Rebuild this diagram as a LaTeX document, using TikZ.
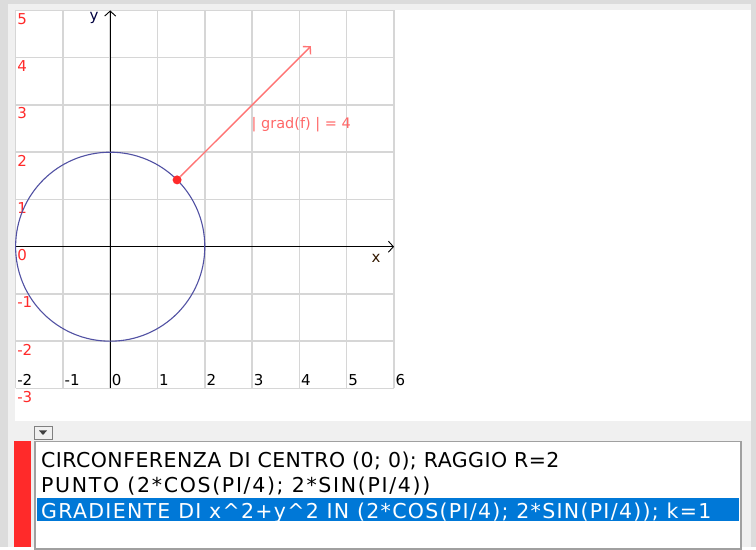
\documentclass[tikz,border=0pt]{standalone}
\usepackage{fontspec}
\setmainfont{DejaVu Sans}
\usetikzlibrary{arrows.meta}

\definecolor{winGray}{HTML}{DCDCDC}
\definecolor{panelGray}{HTML}{F0F0F0}
\definecolor{gridGray}{HTML}{D6D6D6}
\definecolor{labRed}{HTML}{FF2A2A}
\definecolor{circBlue}{HTML}{5151A3}
\definecolor{gradRed}{HTML}{FF7373}
\definecolor{selBlue}{HTML}{0078D7}
\definecolor{boxGray}{HTML}{A0A0A0}

\begin{document}
\begin{tikzpicture}[x=1pt,y=1pt]
    % Styles
    \tikzset{
      grid line/.style={draw=gridGray, line width=1.5pt},
      axis line/.style={draw=black, line width=0.9pt, -{Straight Barb[length=5pt,width=11pt]}},
      ylab/.style={text=labRed, font=\fontsize{15}{15}\selectfont, inner sep=0pt},
      xlab/.style={text=black, font=\fontsize{15}{15}\selectfont, inner sep=0pt},
      axis name/.style={font=\fontsize{15}{15}\selectfont, inner sep=0pt},
      point dot/.style={circle, fill=labRed, inner sep=0pt, minimum size=9pt},
      grad arrow/.style={draw=gradRed, line width=1.4pt, -{Straight Barb[length=5pt,width=11pt]}},
      list item/.style={inner sep=0pt, anchor=base west,
        font=\fontsize{20.5}{20.5}\selectfont\addfontfeature{LetterSpace=#1}},
      list item/.default=0
    }

    % --- Window background ---
    \fill[winGray] (0,0) rectangle (756,547);
    \fill[panelGray] (8,0) rectangle (751,543);
    \fill[white] (15,126) rectangle (751,537);

    % --- Graph ---
    \begin{scope}[shift={(110.2,300.3)}, x=47.3pt, y=47.25pt]
      \draw[grid line, step=1] (-2,-3) grid (6,5);

      % tick labels
      \foreach \k in {-3,...,5}
        \node[ylab, anchor=north west] (ylab\k) at ([xshift=1.5pt,yshift=-2.5pt]-2,\k) {\k};
      \foreach \k in {-2,...,6}
        \node[xlab, anchor=south west] (xlab\k) at ([xshift=1.5pt,yshift=2.5pt]\k,-3) {\k};

      % axes
      \coordinate (xstart) at (-2,0);
      \coordinate (xend) at (6,0);
      \coordinate (ystart) at (0,-3);
      \coordinate (yend) at (0,5);
      \draw[axis line] (xstart) -- (xend);
      \draw[axis line] (ystart) -- (yend);
      \node[axis name, text=black!75!blue] (yname) at (-0.34,4.84) {y};
      \node[axis name, text=black!80!orange] (xname) at (5.62,-0.25) {x};

      % circle of radius 2
      \coordinate (O) at (0,0);
      \draw[circBlue, line width=1.1pt] (O) circle[radius=2];

      % point and gradient
      \node[point dot] (P) at ({2*cos(45)},{2*sin(45)}) {};
      \coordinate (G) at ({2*cos(45)+4*cos(45)},{2*sin(45)+4*sin(45)});
      \draw[grad arrow] (P) -- (G);
      \node[text=gradRed!90!red, font=\fontsize{14.5}{14.5}\selectfont, inner sep=0pt] (gradlab) at (4.04,2.58) {| grad(f) | = 4};
    \end{scope}

    % --- Command list ---
    \node[draw=gray, fill=panelGray, line width=0.8pt, minimum width=18pt, minimum height=13pt, inner sep=0pt] (drop) at (43,114.5) {};
    \fill[black!75] ([xshift=-4pt,yshift=2pt]drop.center) -- ([xshift=4pt,yshift=2pt]drop.center) -- ([yshift=-2.5pt]drop.center) -- cycle;
    \fill[labRed] (14,0) rectangle (31,106);
    \draw[boxGray, fill=white, line width=1.5pt] (35,-2) rectangle (741,105.5);
    \fill[selBlue] (37,26) rectangle (739,49);

    \node[list item=2.2] (item1) at (41,79) {CIRCONFERENZA DI CENTRO (0; 0); RAGGIO R=2};
    \node[list item=8.2] (item2) at (41,54) {PUNTO (2*COS(PI/4); 2*SIN(PI/4))};
    \node[list item=6.3, text=white] (item3) at (41,28) {GRADIENTE DI x\textasciicircum 2+y\textasciicircum 2 IN (2*COS(PI/4); 2*SIN(PI/4)); k=1};
\end{tikzpicture}
\end{document}
